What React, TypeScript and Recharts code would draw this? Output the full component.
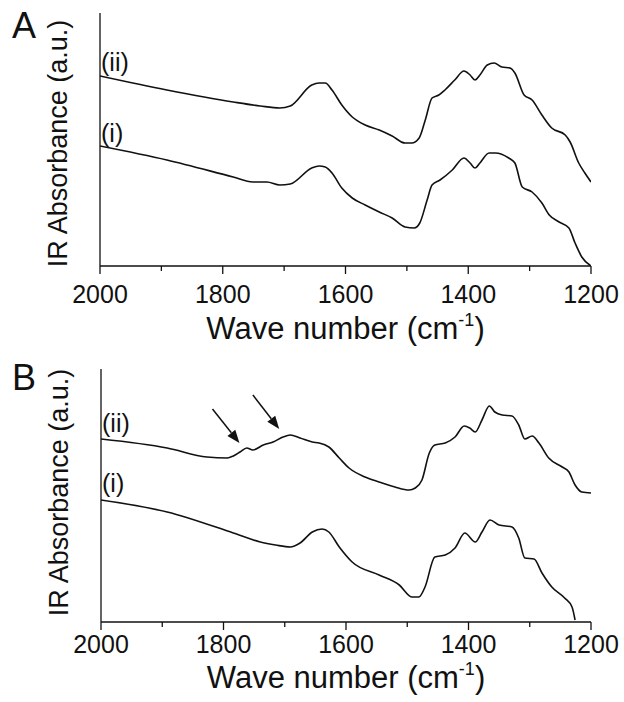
import React from 'react';
import { LineChart, Line, XAxis, YAxis, ReferenceLine, ReferenceDot, Label } from 'recharts';

const FONT = "'Liberation Sans', Arial, sans-serif";
const INK = '#111';

const majorTicks = [2000, 1800, 1600, 1400, 1200];
const allTicks = [2000, 1900, 1800, 1700, 1600, 1500, 1400, 1300, 1200];

// Panel A, spectrum (ii)
const waveA_ii = [2000, 1891, 1783, 1739, 1707, 1690, 1655, 1643, 1633, 1622, 1606, 1589, 1568, 1545, 1524, 1503, 1492, 1480, 1470, 1459, 1448, 1438, 1422, 1407, 1397, 1389, 1381, 1369, 1358, 1345, 1332, 1324, 1309, 1296, 1280, 1264, 1242, 1234, 1220, 1210, 1200];
const absA_ii = [190, 176, 164, 160, 158, 160, 181, 183, 183, 176, 161, 149, 141, 136, 130, 123, 123, 128, 146, 168, 171, 176, 186, 195, 191, 186, 191, 201, 203, 199, 198, 193, 171, 166, 151, 138, 131, 124, 103, 93, 84];

// Panel A, spectrum (i)
const waveA_i = [2000, 1891, 1783, 1751, 1728, 1707, 1690, 1655, 1643, 1633, 1622, 1606, 1589, 1568, 1545, 1524, 1503, 1488, 1479, 1467, 1459, 1446, 1426, 1407, 1397, 1389, 1381, 1366, 1356, 1334, 1324, 1312, 1296, 1280, 1268, 1252, 1236, 1226, 1215, 1200];
const absA_i = [120, 106, 89, 84, 84, 81, 82, 98, 100, 99, 93, 78, 68, 61, 54, 48, 39, 38, 43, 66, 81, 86, 96, 108, 103, 98, 103, 113, 113, 108, 103, 79, 74, 63, 51, 44, 38, 23, 9, 0];

// Panel B, spectrum (ii)
const waveB_ii = [2000, 1892, 1827, 1794, 1784, 1773, 1762, 1752, 1735, 1719, 1703, 1691, 1675, 1655, 1644, 1628, 1611, 1595, 1569, 1546, 1520, 1497, 1487, 1476, 1464, 1455, 1438, 1422, 1407, 1398, 1389, 1378, 1366, 1357, 1345, 1329, 1318, 1308, 1296, 1285, 1269, 1247, 1236, 1226, 1215, 1200];
const absB_ii = [183, 174, 165, 164, 166, 170, 174, 172, 177, 180, 185, 187, 184, 180, 179, 175, 164, 154, 145, 140, 135, 132, 134, 142, 169, 177, 179, 185, 196, 194, 190, 202, 216, 210, 207, 206, 197, 183, 186, 179, 164, 155, 150, 137, 130, 129];

// Panel B, spectrum (i)
const waveB_i = [2000, 1892, 1784, 1740, 1715, 1691, 1675, 1655, 1639, 1628, 1611, 1590, 1546, 1513, 1492, 1481, 1471, 1455, 1438, 1422, 1406, 1389, 1378, 1365, 1350, 1329, 1318, 1308, 1293, 1280, 1264, 1243, 1231, 1226];
const absB_i = [122, 110, 89, 80, 77, 75, 79, 90, 93, 90, 75, 60, 47, 37, 25, 25, 35, 65, 67, 74, 89, 80, 90, 102, 97, 95, 84, 64, 63, 49, 35, 24, 15, 2];

// Arrows in panel B (start wave, start abs, end wave, end abs)
const arrowStartWave = [1818, 1752];
const arrowStartAbs = [213, 227];
const arrowEndWave = [1774, 1709];
const arrowEndAbs = [179, 193];

const toSeries = (w: number[], a: number[]) => w.map((wn, i) => ({ wn, a: a[i] }));

const makeTick = (labelDy: number) => (props: any) => {
  const { x, y, payload } = props;
  const major = majorTicks.includes(payload.value);
  return (
    <g>
      <line x1={x} x2={x} y1={y} y2={y + (major ? 8 : 5)} stroke={INK} strokeWidth={1.3} />
      {major && (
        <text x={x} y={y + labelDy} textAnchor="middle" fontSize={25} fill={INK} fontFamily={FONT}>
          {payload.value}
        </text>
      )}
    </g>
  );
};

const makeXTitle = (dy: number) => (p: any) => {
  const vb = p.viewBox;
  const cx = vb.x + vb.width / 2;
  const y = vb.y + dy;
  return (
    <text x={cx} y={y} textAnchor="middle" fontSize={31} fill={INK} fontFamily={FONT}>
      <tspan>Wave number (cm</tspan>
      <tspan fontSize={18} dy={-13}>-1</tspan>
      <tspan dy={13}>)</tspan>
    </text>
  );
};

const makeYTitle = (dy: number) => (p: any) => {
  const vb = p.viewBox;
  const x = vb.x + vb.width - 42;
  const y = vb.y + vb.height / 2 + dy;
  return (
    <text x={x} y={y} transform={`rotate(-90 ${x} ${y})`} textAnchor="middle" dominantBaseline="central" fontSize={27} fill={INK} fontFamily={FONT}>
      IR Absorbance (a.u.)
    </text>
  );
};

const curveLabel = (text: string, dy: number) => (p: any) => {
  const vb = p.viewBox;
  return (
    <text x={vb.x + 2} y={vb.y + dy} fontSize={25} fill={INK} fontFamily={FONT}>
      {text}
    </text>
  );
};

const Arrow = (props: any) => {
  const { x1, y1, x2, y2 } = props;
  const ang = Math.atan2(y2 - y1, x2 - x1);
  const L = 13, W = 5;
  const bx = x2 - L * Math.cos(ang);
  const by = y2 - L * Math.sin(ang);
  const px = -Math.sin(ang) * W;
  const py = Math.cos(ang) * W;
  return (
    <g>
      <line x1={x1} y1={y1} x2={bx} y2={by} stroke={INK} strokeWidth={1.5} />
      <polygon points={`${x2},${y2} ${bx + px},${by + py} ${bx - px},${by - py}`} fill={INK} />
    </g>
  );
};

type PanelProps = {
  letter: string;
  top: number;
  marginTop: number;
  marginLeft: number;
  axisHeight: number;
  tickDy: number;
  titleDy: number;
  yTitleDy: number;
  upper: { wn: number; a: number }[];
  lower: { wn: number; a: number }[];
  upperLabelDy: number;
  lowerLabelDy: number;
  arrows: boolean;
  letterBaseline: number;
};

const Panel = (p: PanelProps) => (
  <div style={{ position: 'absolute', left: 0, top: p.top, width: 624, height: 351 }}>
    <LineChart width={624} height={351} margin={{ top: p.marginTop, right: 33, bottom: 0, left: p.marginLeft - 1 }}>
      <XAxis
        type="number"
        dataKey="wn"
        domain={[1200, 2000]}
        reversed
        ticks={allTicks}
        interval={0}
        tick={makeTick(p.tickDy)}
        tickLine={false}
        tickSize={0}
        tickMargin={0}
        axisLine={{ stroke: INK, strokeWidth: 1.3 }}
        height={p.axisHeight}
        allowDataOverflow
      >
        <Label content={makeXTitle(p.titleDy)} />
      </XAxis>
      <YAxis
        type="number"
        domain={[0, 253]}
        width={1}
        tick={false}
        tickLine={false}
        axisLine={{ stroke: INK, strokeWidth: 1.3 }}
        allowDataOverflow
      >
        <Label content={makeYTitle(p.yTitleDy)} />
      </YAxis>
      <Line data={p.upper} dataKey="a" type="monotone" stroke={INK} strokeWidth={1.6} dot={false} isAnimationActive={false} />
      <Line data={p.lower} dataKey="a" type="monotone" stroke={INK} strokeWidth={1.6} dot={false} isAnimationActive={false} />
      <ReferenceDot x={p.upper[0].wn} y={p.upper[0].a} r={1} fill="none" stroke="none" label={{ content: curveLabel('(ii)', p.upperLabelDy) }} />
      <ReferenceDot x={p.lower[0].wn} y={p.lower[0].a} r={1} fill="none" stroke="none" label={{ content: curveLabel('(i)', p.lowerLabelDy) }} />
      {p.arrows &&
        arrowStartWave.map((w, i) => (
          <ReferenceLine
            key={i}
            segment={[
              { x: w, y: arrowStartAbs[i] },
              { x: arrowEndWave[i], y: arrowEndAbs[i] },
            ]}
            shape={Arrow}
          />
        ))}
    </LineChart>
    <div
      style={{
        position: 'absolute',
        left: 12,
        top: p.letterBaseline - 35,
        fontSize: 36,
        lineHeight: '36px',
        fontFamily: FONT,
        color: INK,
      }}
    >
      {p.letter}
    </div>
  </div>
);

export default function App() {
  return (
    <div style={{ position: 'absolute', left: 0, top: 0, width: 624, height: 702, background: '#fff' }}>
      <Panel
        letter="A"
        top={0}
        marginTop={13}
        marginLeft={100}
        axisHeight={85}
        tickDy={37}
        titleDy={73}
        yTitleDy={4}
        upper={toSeries(waveA_ii, absA_ii)}
        lower={toSeries(waveA_i, absA_i)}
        upperLabelDy={-4}
        lowerLabelDy={-3}
        arrows={false}
        letterBaseline={43}
      />
      <Panel
        letter="B"
        top={351}
        marginTop={18}
        marginLeft={101}
        axisHeight={80}
        tickDy={31}
        titleDy={66}
        yTitleDy={-3}
        upper={toSeries(waveB_ii, absB_ii)}
        lower={toSeries(waveB_i, absB_i)}
        upperLabelDy={-6}
        lowerLabelDy={-7}
        arrows={true}
        letterBaseline={44}
      />
    </div>
  );
}
